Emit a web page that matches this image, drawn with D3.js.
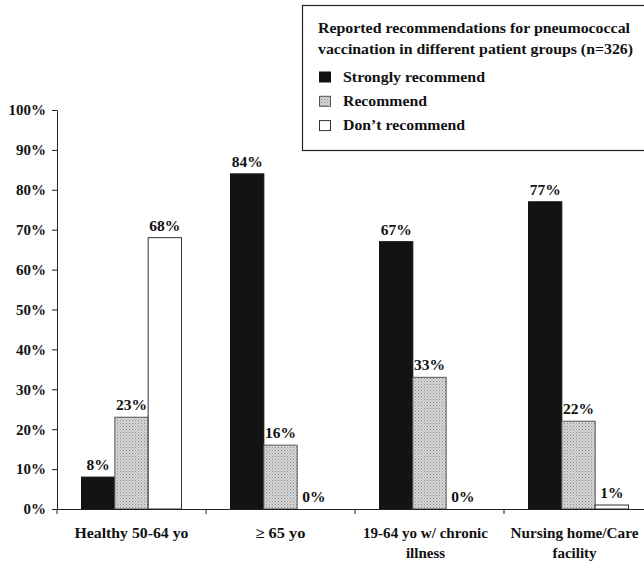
<!DOCTYPE html>
<html>
<head>
<meta charset="utf-8">
<script src="https://cdn.jsdelivr.net/npm/d3@7"></script>
<style>
  html, body { margin: 0; padding: 0; background: #fff; }
  svg { display: block; }
  svg text { font-family: "Liberation Serif", "Times New Roman", serif !important; font-weight: bold; fill: #111; }
</style>
</head>
<body>
<svg id="chart" width="644" height="564" font-family="Liberation Serif"></svg>
<script>
// Patient groups (x categories), each label split into lines
const categories = ["Healthy 50-64 yo", "\u2265 65 yo", "19-64 yo w/ chronic illness", "Nursing home/Care facility"];
const categoryLines = [["Healthy 50-64 yo"], ["\u2265 65 yo"], ["19-64 yo w/ chronic", "illness"], ["Nursing home/Care", "facility"]];

// Series values (percent of respondents)
const seriesNames = ["Strongly recommend", "Recommend", "Don\u2019t recommend"];
const stronglyRecommend = [8, 84, 67, 77];
const recommend = [23, 16, 33, 22];
const dontRecommend = [68, 0, 0, 1];
const seriesValues = [stronglyRecommend, recommend, dontRecommend];

const yTicks = [0, 10, 20, 30, 40, 50, 60, 70, 80, 90, 100];
const legendTitle = ["Reported recommendations for pneumococcal", "vaccination in different patient groups (n=326)"];

// Set widths for the wider serif face used in the labels (null = natural width)
const titleWidths = [312, 315];
const legendWidths = [142, 84, 122];
const categoryWidths = [[114], [50], [125, null], [128, null]];

const svg = d3.select("#chart");
const defs = svg.append("defs");

// Dotted grey fill used for the "Recommend" series
const pat = defs.append("pattern")
  .attr("id", "dots").attr("patternUnits", "userSpaceOnUse")
  .attr("width", 3).attr("height", 3);
pat.append("rect").attr("width", 3).attr("height", 3).attr("fill", "#d6d6d6");
pat.append("rect").attr("x", 0).attr("y", 0).attr("width", 1).attr("height", 1).attr("fill", "#8a8a8a");
pat.append("rect").attr("x", 1.5).attr("y", 1.5).attr("width", 1).attr("height", 1).attr("fill", "#a8a8a8");

const fills = ["#131313", "url(#dots)", "#ffffff"];
const strokes = ["#131313", "#555", "#333"];

const x0 = d3.scaleBand().domain(categories).range([57, 653]).paddingInner(0).paddingOuter(0);
const x1 = d3.scaleBand().domain(seriesNames).range([24.5, x0.bandwidth() - 24.5]).padding(0);
const y = d3.scaleLinear().domain([0, 100]).range([509, 110]);

// Y axis
const yAxis = d3.axisLeft(y).tickValues(yTicks).tickFormat(d => d + "%").tickSize(5).tickSizeOuter(0);
const gy = svg.append("g").attr("transform", "translate(57,0)").call(yAxis)
  .attr("font-family", null).attr("font-size", null);
gy.select(".domain").attr("stroke", "#222");
gy.selectAll(".tick line").attr("stroke", "#222");
gy.selectAll(".tick text").attr("x", -11).style("font-size", "15px").attr("fill", "#111");

// Bars
const groups = svg.append("g").selectAll("g")
  .data(categories).join("g")
  .attr("transform", d => `translate(${x0(d)},0)`);

groups.each(function(cat, ci) {
  const g = d3.select(this);
  seriesNames.forEach((s, si) => {
    const v = seriesValues[si][ci];
    if (v > 0) {
      g.append("rect")
        .attr("x", x1(s))
        .attr("y", y(v))
        .attr("width", x1.bandwidth())
        .attr("height", y(0) - y(v))
        .attr("fill", fills[si])
        .attr("stroke", strokes[si])
        .attr("stroke-width", 1);
    }
    g.append("text")
      .attr("x", x1(s) + x1.bandwidth() / 2)
      .attr("y", y(v) - 7)
      .attr("text-anchor", "middle")
      .style("font-size", "15.5px")
      .text(v + "%");
  });
});

// X axis
const xAxis = d3.axisBottom(x0).tickValues([]).tickSizeOuter(0);
const gx = svg.append("g").attr("transform", "translate(0,509)").call(xAxis);
gx.select(".domain").attr("stroke", "#222");
gx.selectAll(".sep").data(categories).join("line")
  .attr("class", "sep")
  .attr("x1", d => x0(d)).attr("x2", d => x0(d))
  .attr("y1", 0).attr("y2", 5)
  .attr("stroke", "#222");

// Category labels (wrapped labels sit slightly left of the band centre)
svg.append("g").selectAll("text")
  .data(categories).join("text")
  .attr("y", 538)
  .attr("text-anchor", "middle")
  .style("font-size", "15px")
  .each(function(d, i) {
    const t = d3.select(this);
    const lines = categoryLines[i];
    const cx = x0(d) + x0.bandwidth() / 2 - (lines.length > 1 ? 4 : 0);
    lines.forEach((line, li) => {
      const span = t.append("tspan")
        .attr("x", cx)
        .attr("dy", li === 0 ? 0 : 20)
        .text(line);
      if (categoryWidths[i][li]) {
        span.attr("textLength", categoryWidths[i][li]).attr("lengthAdjust", "spacingAndGlyphs");
      }
    });
  });

// Legend
const lg = svg.append("g");
lg.append("rect")
  .attr("x", 302.5).attr("y", 5.5).attr("width", 360).attr("height", 145)
  .attr("fill", "#fff").attr("stroke", "#222").attr("stroke-width", 1.2);
legendTitle.forEach((line, i) => {
  lg.append("text").attr("x", 318).attr("y", 33 + i * 20.5)
    .style("font-size", "15.5px")
    .attr("textLength", titleWidths[i]).attr("lengthAdjust", "spacingAndGlyphs")
    .text(line);
});
seriesNames.forEach((s, i) => {
  const base = 81.5 + i * 24.3;
  lg.append("rect")
    .attr("x", 319.5).attr("y", base - 9.5).attr("width", 11).attr("height", 10)
    .attr("fill", fills[i]).attr("stroke", strokes[i]);
  lg.append("text").attr("x", 343).attr("y", base)
    .style("font-size", "15.5px")
    .attr("textLength", legendWidths[i]).attr("lengthAdjust", "spacingAndGlyphs")
    .text(s);
});
</script>
</body>
</html>
